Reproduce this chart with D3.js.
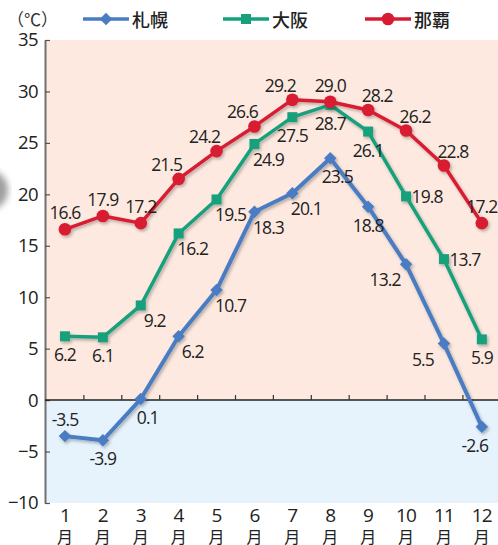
<!DOCTYPE html>
<html>
<head>
<meta charset="utf-8">
<script src="https://cdn.jsdelivr.net/npm/d3@7"></script>
<style>
  body { margin: 0; background: #fff; }
  svg { display: block; }
</style>
</head>
<body>
<div id="chart"></div>
<script>
// monthly mean temperature (℃)
const months = [1, 2, 3, 4, 5, 6, 7, 8, 9, 10, 11, 12];
const sapporo = [-3.5, -3.9, 0.1, 6.2, 10.7, 18.3, 20.1, 23.5, 18.8, 13.2, 5.5, -2.6];
const osaka = [6.2, 6.1, 9.2, 16.2, 19.5, 24.9, 27.5, 28.7, 26.1, 19.8, 13.7, 5.9];
const naha = [16.6, 17.9, 17.2, 21.5, 24.2, 26.6, 29.2, 29.0, 28.2, 26.2, 22.8, 17.2];
const yTicks = [-10, -5, 0, 5, 10, 15, 20, 25, 30, 35];
const cityNames = ["札幌", "大阪", "那覇"];

// where each value label sits relative to its point
const sapporoPos = ["n", "s", "sse", "se", "se", "se", "se", "sse", "s", "sw", "sw", "ssw"];
const osakaPos = ["s", "s", "se", "se", "se", "se", "s", "s", "s", "e", "e", "s"];
const nahaPos = ["n", "n", "n", "nw", "nw", "nw", "nw", "n", "ne", "ne", "ne", "n"];

const offsets = {
    n: [0, -17], s: [0, 18], se: [14, 15], sse: [7, 18], ssw: [-7, 18],
    sw: [-21, 15], nw: [-12, -15], ne: [9, -15], e: [21, 0]
};

const width = 498, height = 545;
const numFont = "'Open Sans', 'Noto Sans', sans-serif";
const cjkFont = "'Noto Sans CJK JP', 'Noto Sans', sans-serif";

const svg = d3.select("#chart")
    .append("svg")
    .attr("width", width)
    .attr("height", height);

const x = d3.scaleBand()
    .domain(months)
    .range([46, 46 + 12 * 37.9]);

const y = d3.scaleLinear()
    .domain([-10, 35])
    .range([503, 40]);

const cx = m => x(m) + x.bandwidth() / 2;

// soft shadow under the lines
const defs = svg.append("defs");
const shadow = defs.append("filter").attr("id", "shadow")
    .attr("x", "-10%").attr("y", "-10%").attr("width", "130%").attr("height", "130%");
shadow.append("feDropShadow")
    .attr("dx", 1.5).attr("dy", 2).attr("stdDeviation", 1.5)
    .attr("flood-color", "#000").attr("flood-opacity", 0.28);
const blur = defs.append("filter").attr("id", "blur");
blur.append("feGaussianBlur").attr("stdDeviation", 3);

// background bands above / below zero
svg.append("rect")
    .attr("x", 46).attr("y", y(35))
    .attr("width", width - 46).attr("height", y(0) - y(35))
    .attr("fill", "#fde9df");
svg.append("rect")
    .attr("x", 46).attr("y", y(0))
    .attr("width", width - 46).attr("height", y(-10) - y(0))
    .attr("fill", "#e6f2fc");

// stray grey blob at the left edge of the scan
svg.append("circle")
    .attr("cx", -12).attr("cy", 190).attr("r", 20)
    .attr("fill", "#777").attr("opacity", 0.7)
    .attr("filter", "url(#blur)");

// y axis: ticks point inward
const yAxis = svg.append("g")
    .attr("transform", "translate(45,0)")
    .call(d3.axisLeft(y)
        .tickValues(yTicks)
        .tickSizeInner(-5)
        .tickSizeOuter(0)
        .tickPadding(7));
yAxis.select(".domain").attr("stroke", "#707070").attr("stroke-width", 2);
yAxis.selectAll(".tick line").attr("stroke", "#555").attr("stroke-width", 1.2);
yAxis.selectAll(".tick text")
    .attr("font-family", numFont)
    .attr("font-size", 18.5)
    .attr("fill", "#222")
    .attr("letter-spacing", -0.6);

// zero line with ticks between months
svg.append("line")
    .attr("x1", 45).attr("x2", width)
    .attr("y1", y(0)).attr("y2", y(0))
    .attr("stroke", "#222").attr("stroke-width", 1.5);
svg.selectAll(".zero-tick")
    .data(months.slice(1))
    .join("line")
    .attr("class", "zero-tick")
    .attr("x1", d => x(d)).attr("x2", d => x(d))
    .attr("y1", y(0)).attr("y2", y(0) - 5)
    .attr("stroke", "#333").attr("stroke-width", 1.2);

// month labels (number over 月)
const monthLabel = svg.selectAll(".month")
    .data(months)
    .join("g")
    .attr("class", "month")
    .attr("transform", d => `translate(${cx(d)},0)`);
monthLabel.append("text")
    .attr("y", 522)
    .attr("text-anchor", "middle")
    .attr("font-family", numFont)
    .attr("font-size", 19)
    .attr("letter-spacing", -0.8)
    .attr("fill", "#222")
    .text(d => d);
monthLabel.append("text")
    .attr("y", 543)
    .attr("text-anchor", "middle")
    .attr("font-family", cjkFont)
    .attr("font-size", 16)
    .attr("fill", "#222")
    .text("月");

const series = [
    {name: cityNames[0], values: sapporo, pos: sapporoPos, color: "#4a7cc2", shape: "diamond", width: 4},
    {name: cityNames[1], values: osaka, pos: osakaPos, color: "#16a07c", shape: "square", width: 3.5},
    {name: cityNames[2], values: naha, pos: nahaPos, color: "#d81b33", shape: "circle", width: 3.5}
];

function marker(sel, s) {
    if (s.shape == "circle") {
        sel.append("circle").attr("r", 6.3).attr("fill", s.color);
    } else if (s.shape == "square") {
        sel.append("path")
            .attr("d", d3.symbol(d3.symbolSquare, 100)())
            .attr("fill", s.color);
    } else {
        sel.append("path")
            .attr("d", d3.symbol(d3.symbolSquare, 78)())
            .attr("transform", "rotate(45)")
            .attr("fill", s.color);
    }
}

const line = d3.line()
    .x((d, i) => cx(months[i]))
    .y(d => y(d));

series.forEach(s => {
    const g = svg.append("g").attr("filter", "url(#shadow)");
    g.append("path")
        .datum(s.values)
        .attr("d", line)
        .attr("fill", "none")
        .attr("stroke", s.color)
        .attr("stroke-width", s.width)
        .attr("stroke-linejoin", "round");
    g.selectAll(".pt")
        .data(s.values)
        .join("g")
        .attr("class", "pt")
        .attr("transform", (d, i) => `translate(${cx(months[i])},${y(d)})`)
        .each(function () { marker(d3.select(this), s); });
});

// value labels
series.forEach(s => {
    svg.append("g")
        .selectAll("text")
        .data(s.values)
        .join("text")
        .attr("x", (d, i) => cx(months[i]) + offsets[s.pos[i]][0])
        .attr("y", (d, i) => y(d) + offsets[s.pos[i]][1])
        .attr("text-anchor", "middle")
        .attr("dominant-baseline", "central")
        .attr("font-family", numFont)
        .attr("font-size", 17.5)
        .attr("letter-spacing", -0.9)
        .attr("fill", "#222")
        .text(d => d.toFixed(1));
});

// legend
svg.append("text")
    .attr("x", 7).attr("y", 26)
    .attr("font-family", cjkFont)
    .attr("font-size", 17)
    .attr("fill", "#333")
    .text("（℃）");

const legendX = [83, 223, 365];
const legend = svg.selectAll(".legend")
    .data(series)
    .join("g")
    .attr("class", "legend")
    .attr("transform", (d, i) => `translate(${legendX[i]},19)`);
legend.append("line")
    .attr("x1", 0).attr("x2", 46)
    .attr("stroke", d => d.color)
    .attr("stroke-width", 3.5);
legend.append("g")
    .attr("transform", "translate(23,0)")
    .each(function (d) { marker(d3.select(this), d); });
legend.append("text")
    .attr("x", 49).attr("y", 0)
    .attr("dominant-baseline", "central")
    .attr("font-family", cjkFont)
    .attr("font-size", 18)
    .attr("font-weight", 500)
    .attr("fill", "#222")
    .text(d => d.name);
</script>
</body>
</html>
